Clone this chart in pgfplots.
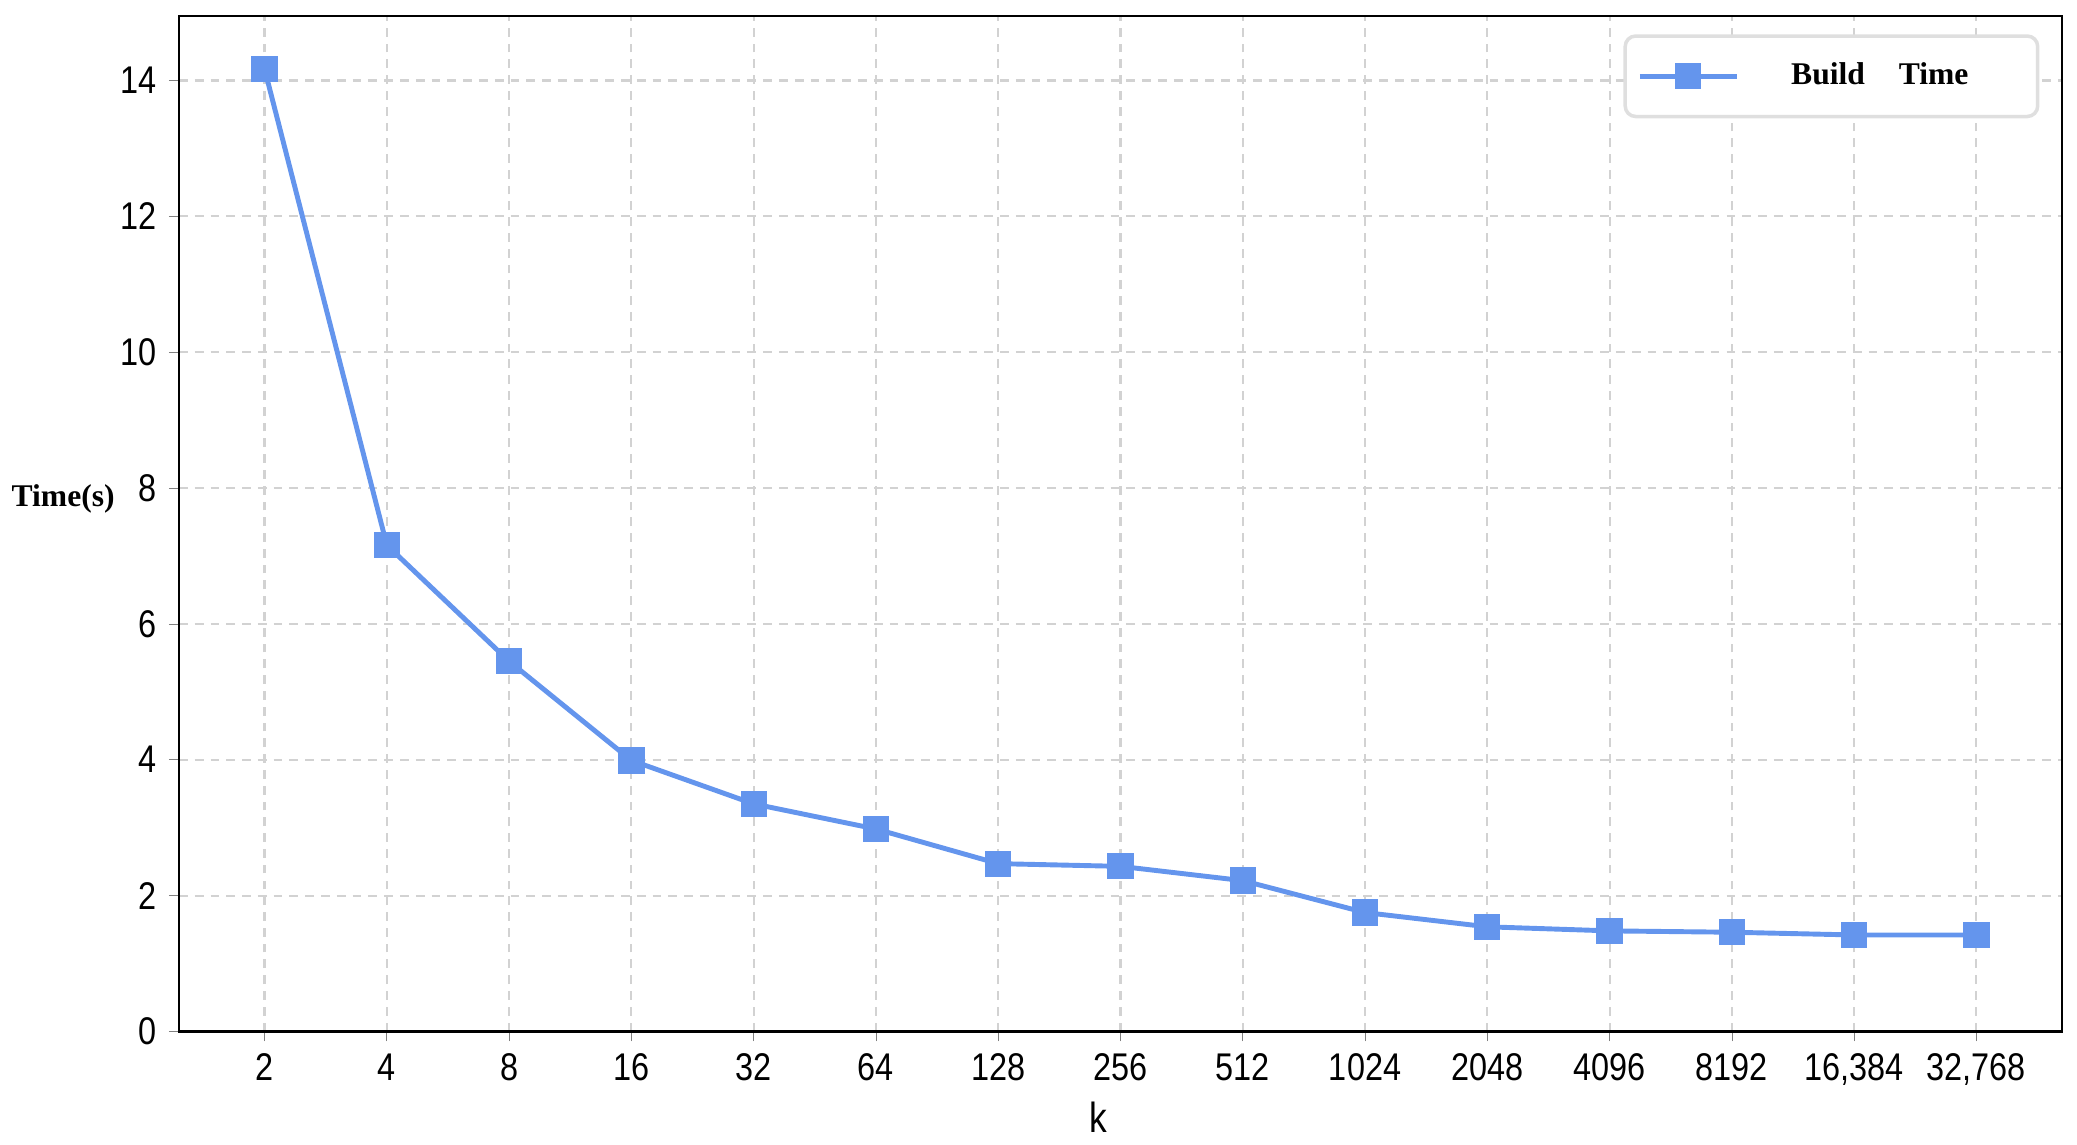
\documentclass[border=0pt]{standalone}
\usepackage{fontspec}
\setmainfont{Liberation Serif}
\newfontfamily\tickfont[FakeStretch=0.84]{Liberation Sans}
\usepackage{pgfplots}
\pgfplotsset{compat=1.18}
\definecolor{cblue}{HTML}{6495ED}
\begin{document}
\begin{tikzpicture}
\begin{axis}[
  scale only axis,
  width=18.86cm, height=10.17cm,
  xmin=-0.7, xmax=14.7,
  ymin=0, ymax=14.95,
  xtick={0,...,14},
  xticklabels={2,4,8,16,32,64,128,256,512,1024,2048,4096,8192,{16,384},{32,768}},
  ytick={0,2,...,14},
  /pgf/number format/assume math mode=true,
  tick label style={font=\tickfont\fontsize{11}{13}\selectfont, text=black},
  tick align=outside,
  major tick length=0.1cm,
  xtick pos=bottom, ytick pos=left,
  axis line style={line width=0.8pt, black},
  grid=major,
  major grid style={dashed, gray!35, line width=0.6pt, dash pattern=on 2.5pt off 2pt},
  xlabel={k},
  xlabel style={font=\tickfont\fontsize{12}{14}\selectfont, at={(axis description cs:0.488,-0.0846)}, anchor=center},
  ylabel={Time(s)},
  ylabel style={font=\bfseries\fontsize{9}{11}\selectfont, rotate=-90, at={(axis description cs:-0.0615,0.524)}, anchor=center},
  legend style={at={(0.988,0.982)}, anchor=north east, draw=gray!25, line width=1pt, rounded corners=3pt,
    font=\bfseries\fontsize{9}{11}\selectfont, inner xsep=3.5pt, inner ysep=5.6pt},
  legend image code/.code={\draw[mark repeat=2,mark phase=2] plot coordinates {(0cm,0cm) (0.48cm,0cm) (0.97cm,0cm)};},
  legend cell align=left,
]
\addplot[color=cblue, line width=1.4pt, mark=square*, mark size=3.6pt, mark options={fill=cblue, draw=cblue, line width=0pt}]
coordinates {
(0,14.17) (1,7.16) (2,5.45) (3,3.99) (4,3.35) (5,2.98) (6,2.47) (7,2.43) (8,2.22) (9,1.75) (10,1.54) (11,1.48) (12,1.46) (13,1.42) (14,1.42)
};
\addlegendentry{\hspace*{0.45cm}Build\hspace*{0.34cm}Time\rule{0.5cm}{0pt}}
\end{axis}
\path (current axis.south west) ++(-1.76cm,-1.09cm);
\path (current axis.north east) ++(0.15cm,0.16cm);
\end{tikzpicture}
\end{document}
